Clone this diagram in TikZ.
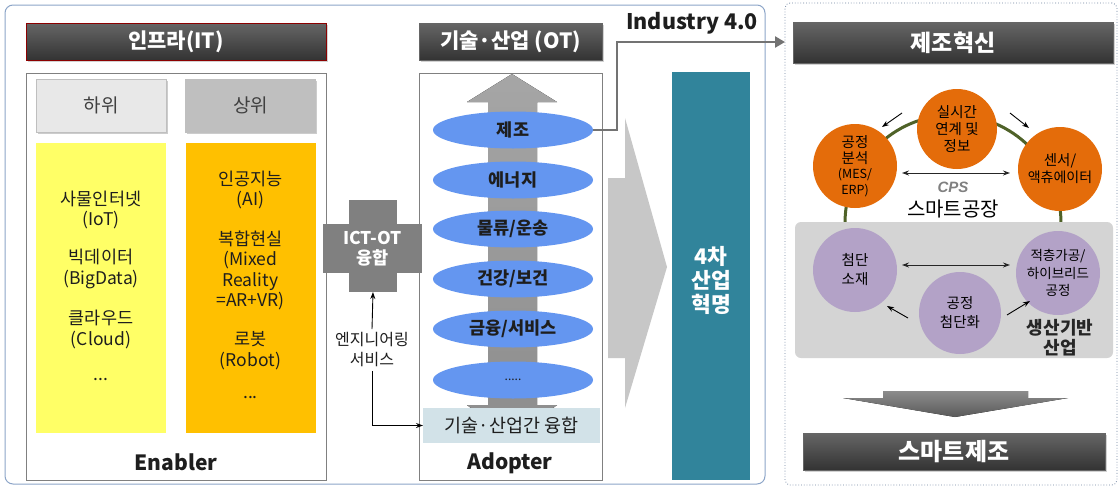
\documentclass[tikz,border=0pt]{standalone}
\usepackage{fontspec}
\setmainfont{Noto Sans CJK KR}
\newfontfamily\lib{Liberation Sans}
\usetikzlibrary{arrows.meta,shapes.geometric,shadows,calc}
\definecolor{frameblue}{RGB}{140,165,200}
\definecolor{ylw}{RGB}{255,255,102}
\definecolor{orng}{RGB}{255,192,0}
\definecolor{ellblue}{RGB}{100,150,240}
\definecolor{teal}{RGB}{49,132,155}
\definecolor{orcirc}{RGB}{228,108,10}
\definecolor{purp}{RGB}{179,162,199}
\definecolor{olive}{RGB}{79,98,40}
\definecolor{fusion}{RGB}{210,226,232}
\definecolor{txt}{RGB}{30,30,30}
\tikzset{
  titlebox/.style={draw=black!60, top color=black!60, bottom color=black!80, text=white,
    font=\bfseries\fontsize{21}{24}\selectfont, inner sep=0pt, outer sep=0pt,
    drop shadow={shadow xshift=1.5pt, shadow yshift=-1.5pt, opacity=0.35}},
  framebox/.style={draw=black!50, line width=0.8pt, inner sep=0pt, outer sep=0pt},
  btn/.style={draw=black!25, inner sep=0pt, outer sep=0pt, minimum width=130pt, minimum height=53pt,
    font=\fontsize{19}{22}\selectfont, text=black!75,
    drop shadow={shadow xshift=1.5pt, shadow yshift=-1.5pt, opacity=0.4}},
  colbox/.style={inner sep=0pt, outer sep=0pt, minimum width=130pt, minimum height=290pt},
  item/.style={align=center, text=txt, font=\fontsize{17.5}{20.5}\selectfont},
  ell/.style={ellipse, fill=ellblue, minimum width=160pt, minimum height=37pt, inner sep=0pt,
    font=\bfseries\fontsize{17.5}{20}\selectfont, text=txt},
  orc/.style={circle, fill=orcirc, minimum size=#1, inner sep=0pt, align=center, text=black,
    font=\fontsize{14.5}{17}\selectfont},
  puc/.style={circle, fill=purp, minimum size=#1, inner sep=0pt, align=center, text=black,
    font=\fontsize{14.5}{19}\selectfont},
  thin arrow/.style={-{Stealth[length=7pt,width=5pt]}, line width=0.9pt, black},
  both arrow/.style={{Stealth[length=7pt,width=5pt]}-{Stealth[length=7pt,width=5pt]}, line width=0.9pt, black!85},
}
\begin{document}
\begin{tikzpicture}[x=1pt,y=-1pt]
\useasboundingbox (0,0) rectangle (1120,488);
\fill[white] (0,0) rectangle (1120,488);

% outer frames
\draw[draw=frameblue, line width=1pt, rounded corners=8pt] (5,5) rectangle (765,484);
\node[draw=frameblue!80!black, dotted, line width=0.8pt, rounded corners=5pt, minimum width=332pt, minimum height=482pt,
  inner sep=0pt, outer sep=0pt] (rpanel) at (951,244) {};

% ---------------- IT ----------------
\node[titlebox, draw=red!55!black, minimum width=300pt, minimum height=37pt] (tIT) at (176,41.5) {인프라(IT)};
\node[framebox, minimum width=300pt, minimum height=407pt] (fIT) at (176,276.5) {};
\node[btn, fill=black!9] (low) at (101,105.5) {하위};
\node[btn, fill=black!25] (high) at (250.5,105.5) {상위};
\node[colbox, fill=ylw] (ybox) at (101,288) {};
\node[colbox, fill=orng] (obox) at (250.5,288) {};
\node[item] (iot) at (101,210) {사물인터넷\\(IoT)};
\node[item] (bd) at (101,269) {빅데이터\\(BigData)};
\node[item] (cl) at (101,329.5) {클라우드\\(Cloud)};
\node[item] (yd) at (101,380) {...};
\node[item] (ai) at (250.5,190) {인공지능\\(AI)};
\node[item] (mr) at (250.5,270.5) {복합현실\\(Mixed\\Reality\\=AR+VR)};
\node[item] (rb) at (250.5,350.5) {로봇\\(Robot)};
\node[item] (od) at (250.5,398) {...};
\node[font=\bfseries\fontsize{21}{24}\selectfont, text=txt] (enabler) at (176,462) {Enabler};

% ---------------- ICT-OT cross ----------------
\node[fill=black!50, minimum width=48pt, minimum height=92pt, inner sep=0pt, outer sep=0pt] (vbar) at (373,246) {};
\node[fill=black!50, minimum width=99pt, minimum height=49pt, inner sep=0pt, outer sep=0pt, align=center,
  text=white, font=\bfseries\fontsize{17.5}{20}\selectfont] (ictot) at (372.5,248.5) {ICT-OT\\융합};
\node[align=center, text=txt, font=\fontsize{16}{20}\selectfont] (eng) at (372,350) {엔지니어링\\서비스};

% ---------------- OT ----------------
\node[titlebox, minimum width=183pt, minimum height=37pt] (tOT) at (510.5,41.5) {기술·산업 (OT)};
\node[framebox, minimum width=183pt, minimum height=407pt] (fOT) at (510.5,276.5) {};
\fill[top color=black!35, bottom color=black!45]
  (512,74) -- (557,102) -- (537,102) -- (537,405) -- (557,405) -- (512,440) -- (467,405) -- (488,405)
  -- (488,102) -- (467,102) -- cycle;
\node[ell] (e1) at (513,130) {제조};
\node[ell] (e2) at (513,180) {에너지};
\node[ell] (e3) at (513,229) {물류/운송};
\node[ell] (e4) at (513,279) {건강/보건};
\node[ell] (e5) at (513,329) {금융/서비스};
\node[ell, font=\fontsize{12}{14}\selectfont] (e6) at (513,380) {.....};
\node[fill=fusion, minimum width=177pt, minimum height=35pt, inner sep=0pt, outer sep=0pt,
  text=txt, font=\fontsize{18.5}{21}\selectfont] (fus) at (511.5,425.5) {기술·산업간 융합};
\node[font=\bfseries\fontsize{21}{24}\selectfont, text=txt] (adopter) at (510,463) {Adopter};

\draw[thin arrow] (eng.north) -- (vbar.south);
\draw[thin arrow] (eng.south) |- (fus.west);

% ---------------- Industry 4.0 ----------------
\node[font=\bfseries\fontsize{21.5}{24}\selectfont, text=txt] (ind) at (692,23) {Industry 4.0};
\coordinate (bend) at (617,42);
\draw[black!55, line width=2.6pt, -{Triangle[length=10pt,width=11pt]}] (e1.east) -| (bend) -- (rpanel.west |- bend);

\fill[black!22] (608,178) -- (625,178) -- (625,118) -- (667,267) -- (625,408) -- (625,358) -- (608,358) -- cycle;
\node[fill=teal, minimum width=78pt, minimum height=408pt, inner sep=0pt, outer sep=0pt] (rev) at (711,276) {};
\node[align=center, text=white, font=\bfseries\fontsize{21.5}{24}\selectfont] (revtxt) at (711,280) {4차\\산업\\혁명};

% ---------------- right panel ----------------
\node[titlebox, minimum width=320pt, minimum height=41pt, font=\bfseries\fontsize{23}{26}\selectfont] (tMI) at (953,42.5) {제조혁신};
\draw[olive, line width=3pt] (845,223) arc[start angle=180, end angle=0, radius=108pt];
\node[orc=80pt] (c1) at (957,129) {실시간\\연계 및\\정보};
\node[orc=84pt, font=\fontsize{14.5}{15.5}\selectfont] (c2) at (855,166) {공정\\분석\\{\fontsize{12.5}{14}\selectfont (MES/}\\{\fontsize{12.5}{14}\selectfont ERP)}};
\node[orc=84pt, font=\fontsize{14.5}{17}\selectfont] (c3) at (1060,169) {센서/\\{\fontsize{14}{17}\selectfont 액츄에이터}};
\coordinate (a1s) at (902,113); \coordinate (a1e) at (882,127);
\coordinate (a2s) at (1010,113); \coordinate (a2e) at (1029,128);
\coordinate (d1s) at (902,173); \coordinate (d1e) at (1010,173);
\draw[thin arrow] (a1s) -- (a1e);
\draw[thin arrow] (a2s) -- (a2e);
\draw[both arrow] (d1s) -- (d1e);
\node[text=black!50, font=\lib\bfseries\itshape\fontsize{15}{18}\selectfont] (cps) at (953,187) {CPS};
\node[text=black, font=\fontsize{20}{22}\selectfont] (sf) at (953,209) {스마트공장};

\node[fill=black!17, rounded corners=6pt, minimum width=318pt, minimum height=136pt, inner sep=0pt, outer sep=0pt] (gpanel) at (954,290) {};
\node[puc=84pt] (p1) at (855,270) {첨단\\소재};
\node[puc=84pt, font=\fontsize{13.5}{17.5}\selectfont] (p2) at (1058,273) {적층가공/\\하이브리드\\공정};
\node[puc=82pt] (p3) at (960,313) {공정\\첨단화};
\coordinate (d2s) at (902,265); \coordinate (d2e) at (1010,265);
\coordinate (a3s) at (908,318); \coordinate (a3e) at (887,306);
\coordinate (a4s) at (1007,315); \coordinate (a4e) at (1030,301);
\draw[both arrow] (d2s) -- (d2e);
\draw[thin arrow] (a3s) -- (a3e);
\draw[thin arrow] (a4s) -- (a4e);
\node[align=center, text=black!85, font=\bfseries\fontsize{18}{20}\selectfont] (sgb) at (1060,338) {생산기반\\산업};

\fill[top color=black!45, bottom color=black!65] (883,391) -- (1028,391) -- (1028,398) -- (1068,398) -- (955,417) -- (843,398) -- (883,398) -- cycle;
\node[titlebox, minimum width=302pt, minimum height=37pt, font=\bfseries\fontsize{24}{26}\selectfont] (tSM) at (954,451.5) {스마트제조};
\end{tikzpicture}
\end{document}
